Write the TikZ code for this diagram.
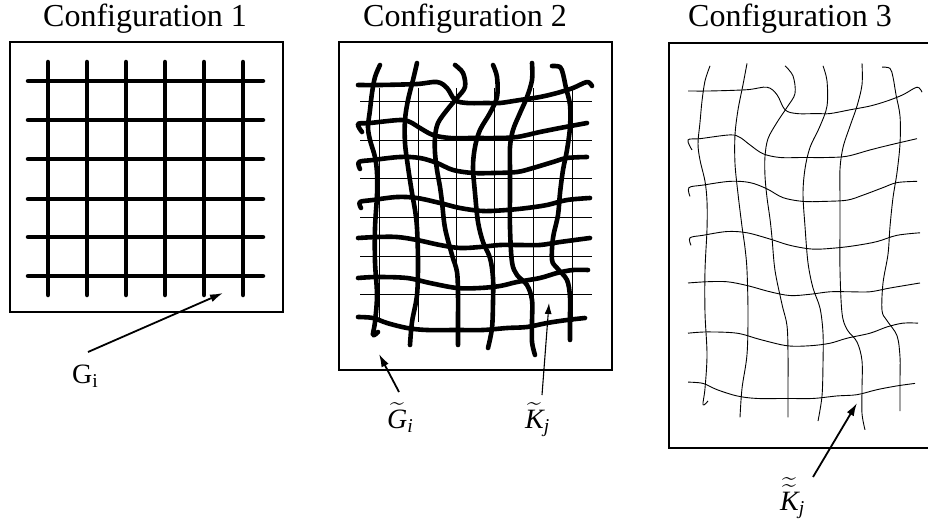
\documentclass[tikz,border=0pt]{standalone}
\usepackage{amsmath}
\usepackage{fontspec}
\setmainfont{Liberation Serif}
\usetikzlibrary{arrows.meta}

% one hand-drawn net, in the local frame of configuration 2
\newcommand{\wavynet}{%
 \draw[net] plot[smooth,tension=.55] coordinates {(18,25) (40,25) (77,24) (97,22) (107,28) (115,40) (127,43) (147,43) (160,43) (180,40) (200,37) (217,33) (233,28) (247,22) (252,26)};
 \draw[net] plot[smooth,tension=.55] coordinates {(22,72) (18,64) (30,63) (60,60) (70,62) (80,68) (93,75) (110,78) (133,78) (157,78) (177,77) (200,72) (220,68) (247,63)};
 \draw[net] plot[smooth,tension=.55] coordinates {(20,109) (19,102) (33,100) (60,97) (80,98) (97,103) (113,110) (133,113) (153,113) (177,112) (193,108) (213,102) (227,98) (247,97)};
 \draw[net] plot[smooth,tension=.55] coordinates {(21,148) (20,142) (33,140) (57,137) (77,138) (100,143) (120,148) (143,151) (167,150) (187,148) (207,145) (227,140) (250,138)};
 \draw[net] plot[smooth,tension=.55] coordinates {(18,178) (37,177) (57,177) (77,180) (100,185) (120,188) (140,187) (160,185) (180,185) (200,185) (220,182) (250,178)};
 \draw[net] plot[smooth,tension=.55] coordinates {(18,218) (37,217) (67,218) (90,223) (117,228) (140,228) (160,226) (177,222) (200,218) (217,213) (233,210) (248,210)};
 \draw[net] plot[smooth,tension=.55] coordinates {(18,257) (33,258) (47,263) (67,268) (87,270) (117,270) (143,270) (167,268) (187,267) (207,263) (227,260) (245,258)};
 \draw[net] plot[smooth,tension=.55] coordinates {(40,5) (35,17) (32,33) (30,50) (28,67) (30,80) (35,97) (37,113) (37,135) (35,168) (35,202) (37,235) (35,262) (33,275) (38,272)};
 \draw[net] plot[smooth,tension=.55] coordinates {(77,3) (73,20) (68,40) (65,60) (65,83) (68,107) (72,133) (75,150) (77,168) (78,202) (77,235) (72,262) (70,285)};
 \draw[net] plot[smooth,tension=.55] coordinates {(115,5) (123,13) (125,27) (117,38) (107,50) (98,63) (95,77) (95,93) (97,110) (100,127) (102,142) (105,168) (112,195) (117,212) (118,235) (118,262) (118,285)};
 \draw[net] plot[smooth,tension=.55] coordinates {(153,5) (157,17) (157,37) (150,53) (140,70) (135,87) (133,107) (135,133) (138,162) (143,182) (150,198) (153,218) (153,242) (152,268) (148,288)};
 \draw[net] plot[smooth,tension=.55] coordinates {(192,3) (192,20) (187,37) (180,53) (173,70) (170,87) (170,110) (170,133) (170,168) (172,202) (177,215) (187,225) (192,240) (192,262) (192,282) (195,295)};
 \draw[net] plot[smooth,tension=.55] coordinates {(212,6) (220,7) (223,14) (226,28) (230,45) (230,67) (227,90) (223,110) (220,133) (218,155) (213,178) (212,200) (217,208) (227,220) (230,237) (230,255) (230,280)};
}

\begin{document}
\begin{tikzpicture}[x=1pt,y=-1pt,font=\fontsize{32}{38}\selectfont,
 frame/.style={draw,line width=1.3pt},
 bar/.style={line width=4.5pt,line cap=round},
 fine/.style={line width=.7pt},
 pointer/.style={-{Latex[length=13pt,width=8pt]},line width=1.8pt},
 slim/.style={-{Latex[length=11pt,width=7pt]},line width=1.1pt},
 tag/.style={inner sep=0pt,anchor=base west,font=\fontsize{28}{32}\selectfont}]
\useasboundingbox (0,0) rectangle (928,524);

% configuration 1
\node[anchor=base] (t1) at (145,27) {Configuration 1};
\draw[frame] (10,42) rectangle (283,312);
\foreach \x in {48,87,126,165,204,243} \draw[bar] (\x,62) -- (\x,295);
\foreach \y in {81,120,159,199,237,276} \draw[bar] (28,\y) -- (263,\y);
\node[tag] (gi) at (72,383) {G\textsubscript{i}};

% configuration 2
\node[anchor=base] (t2) at (465,27) {Configuration 2};
\draw[frame] (339,42) rectangle (612,370);
\foreach \x in {379,418,456,494,533,572} \draw[fine] (\x,88) -- (\x,322);
\foreach \y in {101,140,178,217,256,294} \draw[fine] (360,\y) -- (592,\y);
\begin{scope}[shift={(340,60)},net/.style={line width=4.6pt,line cap=round,line join=round}]
\wavynet
\end{scope}
\node[tag] (gt) at (387,428) {$\widetilde{\textit{G}}_{\text{\itshape i}}$};
\node[tag] (kt) at (525,428) {$\widetilde{\textit{K}}_{\text{\itshape j}}$};

% configuration 3
\node[anchor=base] (t3) at (790,27) {Configuration 3};
\draw[frame] (669,43) rectangle (940,448);
\begin{scope}[shift={(670,59.6)},yscale=1.255,net/.style={line width=.9pt}]
\wavynet
\end{scope}
\node[tag] (ktt) at (780,510) {$\widetilde{\widetilde{\textit{K}}}_{\text{\itshape j}}$};

% pointers
\coordinate (gifoot) at (88,352);
\coordinate (gitip) at (223,293);
\coordinate (gtfoot) at (399,392);
\coordinate (gttip) at (379,354);
\coordinate (ktfoot) at (542,395);
\coordinate (kttip) at (549,303);
\coordinate (kttfoot) at (813,477);
\coordinate (ktttip) at (857,403);
\draw[pointer] (gifoot) -- (gitip);
\draw[pointer] (gtfoot) -- (gttip);
\draw[slim] (ktfoot) -- (kttip);
\draw[pointer] (kttfoot) -- (ktttip);
\end{tikzpicture}
\end{document}
